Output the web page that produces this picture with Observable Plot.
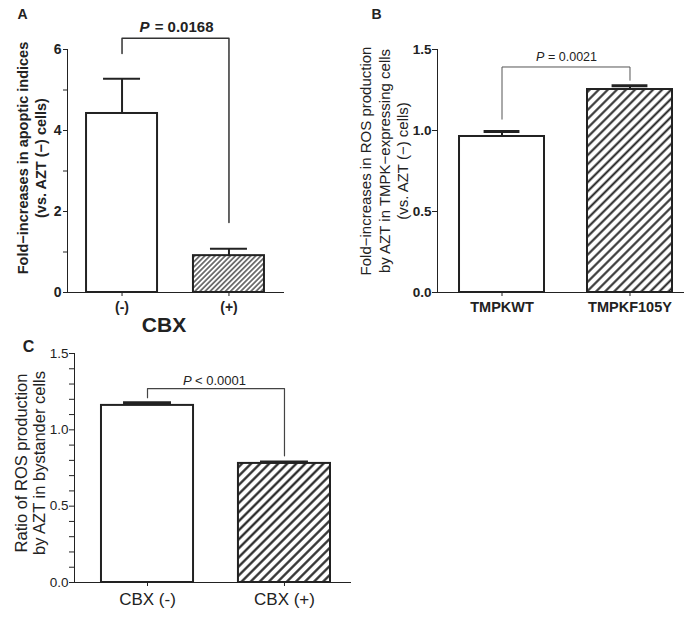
<!DOCTYPE html>
<html>
<head>
<meta charset="utf-8">
<script src="https://cdn.jsdelivr.net/npm/d3@7"></script>
<script src="https://cdn.jsdelivr.net/npm/@observablehq/plot@0.6"></script>
<style>
  html, body { margin: 0; padding: 0; background: #fff; }
  #wrap { position: relative; width: 698px; height: 621px; background: #fff; overflow: hidden; }
  .panel { position: absolute; }
</style>
</head>
<body>
<div id="wrap">
  <div class="panel" id="pA" style="left:0px;top:0px"></div>
  <div class="panel" id="pB" style="left:340px;top:0px"></div>
  <div class="panel" id="pC" style="left:0px;top:330px"></div>
</div>
<script>
// ---------- DATA ----------
// Panel A
const catsA = ["(-)", "(+)"];
const meanA = [4.42, 0.91];
const upperA = [5.28, 1.08];
const yTicksA = [0, 1, 2, 3, 4, 5, 6];
const yLabelsA = [0, 2, 4, 6];
const bracketA = [5.9, 6.28, 6.28, 1.73];   // left foot, top, top, right foot
const pTextA = "= 0.0168";
const yLabelA = "Fold\u2212increases in apoptic indices\n(vs. AZT (\u2212) cells)";
const xTitleA = "CBX";

// Panel B
const catsB = ["TMPKWT", "TMPKF105Y"];
const meanB = [0.963, 1.253];
const upperB = [0.994, 1.277];
const yTicksB = [0, 0.5, 1.0, 1.5];
const yLabelsB = [0, 0.5, 1.0, 1.5];
const bracketB = [1.07, 1.392, 1.392, 1.31];
const pTextB = "= 0.0021";
const yLabelB = "Fold\u2212increases in ROS production\nby AZT in TMPK\u2212expressing cells\n(vs. AZT (\u2212) cells)";

// Panel C
const catsC = ["CBX (-)", "CBX (+)"];
const meanC = [1.16, 0.78];
const upperC = [1.178, 0.79];
const yTicksC = [0, 0.1, 0.2, 0.3, 0.4, 0.5, 0.6, 0.7, 0.8, 0.9, 1.0, 1.1, 1.2, 1.3, 1.4, 1.5];
const yLabelsC = [0, 0.5, 1.0, 1.5];
const bracketC = [1.21, 1.27, 1.27, 0.83];
const pTextC = "< 0.0001";
const yLabelC = "Ratio of ROS production\nby AZT in bystander cells";

// ---------- DRAWING ----------
const FONT = "'Liberation Sans', Arial, Helvetica, sans-serif";
const INK = "#222";
const NS = "http://www.w3.org/2000/svg";

function addHatch(svg, id, size, sw) {
  const defs = document.createElementNS(NS, "defs");
  defs.innerHTML =
    `<pattern id="${id}" patternUnits="userSpaceOnUse" width="${size}" height="${size}" patternTransform="rotate(45)">` +
    `<rect width="${size}" height="${size}" fill="white"/>` +
    `<line x1="${size/2}" y1="0" x2="${size/2}" y2="${size}" stroke="${INK}" stroke-width="${sw}"/></pattern>`;
  svg.insertBefore(defs, svg.firstChild);
}

function makePanel(cfg) {
  const rows = cfg.cats.map((c, i) => ({i, cat: c, mean: cfg.mean[i], upper: cfg.upper[i]}));
  const br = [0, 0, 1, 1].map((x, k) => ({x, y: cfg.bracket[k]}));
  const brTop = cfg.bracket[1];
  const marks = [
    Plot.rect(rows.filter(d => d.i === 0), {x1: d => d.i - cfg.half, x2: d => d.i + cfg.half, y1: 0, y2: "mean",
      fill: "white", stroke: INK, strokeWidth: cfg.barSW}),
    Plot.rect(rows.filter(d => d.i === 1), {x1: d => d.i - cfg.half, x2: d => d.i + cfg.half, y1: 0, y2: "mean",
      fill: `url(#${cfg.hatchId})`, stroke: INK, strokeWidth: cfg.barSW}),
    Plot.ruleX(rows, {x: "i", y1: "mean", y2: "upper", stroke: INK, strokeWidth: cfg.stemSW}),
    Plot.ruleY(rows, {y: "upper", x1: d => d.i - cfg.cap, x2: d => d.i + cfg.cap, stroke: INK, strokeWidth: cfg.capSW}),
    Plot.line(br, {x: "x", y: "y", stroke: cfg.brColor, strokeWidth: cfg.brSW}),
    // p-value: italic P + rest
    Plot.text(["P"], {x: 0.5, y: brTop, dx: cfg.pDx[0], dy: cfg.pDy, textAnchor: "start", fontStyle: "italic",
      fontSize: cfg.pSize, fontWeight: cfg.pWeight, fill: INK}),
    Plot.text([cfg.pText], {x: 0.5, y: brTop, dx: cfg.pDx[1], dy: cfg.pDy, textAnchor: "end",
      fontSize: cfg.pSize, fontWeight: cfg.pWeight, fill: INK}),
    // y tick labels
    Plot.text(cfg.yLabels, {y: d => d, text: cfg.yFmt, frameAnchor: "left", dx: -(cfg.ytTick + cfg.ytPad),
      textAnchor: "end", lineAnchor: "middle", fontSize: cfg.ytSize, fontWeight: cfg.ytWeight, fill: INK}),
    // x tick labels
    Plot.text(rows, {x: "i", text: "cat", frameAnchor: "bottom", dy: cfg.xlDy, lineAnchor: "middle",
      fontSize: cfg.xlSize, fontWeight: cfg.xlWeight, fill: INK}),
    // y label
    Plot.text([cfg.yLabel], {frameAnchor: "left", rotate: -90, dx: cfg.ylDx, dy: cfg.ylDy, textAnchor: "middle",
      lineAnchor: "middle", lineHeight: cfg.ylLH, fontSize: cfg.ylSize, fontWeight: cfg.ylWeight, fill: INK}),
    // panel letter
    Plot.text([cfg.letter], {frameAnchor: "top-left", dx: cfg.letDx, dy: cfg.letDy, textAnchor: "middle",
      lineAnchor: "middle", fontSize: cfg.letSize, fontWeight: "bold", fill: INK})
  ];
  if (cfg.xTitle) {
    marks.push(Plot.text([cfg.xTitle], {x: 0.5, frameAnchor: "bottom", dx: cfg.xtDx, dy: cfg.xtDy, lineAnchor: "middle",
      fontSize: cfg.xtSize, fontWeight: "bold", fill: INK}));
  }
  const svg = Plot.plot({
    width: cfg.width, height: cfg.height,
    marginLeft: cfg.ml, marginRight: cfg.mr, marginTop: cfg.mt, marginBottom: cfg.mb,
    style: {fontFamily: FONT, color: INK, background: "transparent", overflow: "visible"},
    x: {domain: cfg.xDomain, ticks: [0, 1], tickFormat: () => "", line: true, tickSize: 4, label: null},
    y: {domain: cfg.yDomain, ticks: cfg.yTicks, tickFormat: () => "", line: true, tickSize: cfg.ytTick, label: null},
    marks
  });
  addHatch(svg, cfg.hatchId, cfg.hatchSize, cfg.hatchSW);
  return svg;
}

document.getElementById("pA").appendChild(makePanel({
  cats: catsA, mean: meanA, upper: upperA, bracket: bracketA, pText: pTextA, yLabel: yLabelA, xTitle: xTitleA,
  letter: "A", width: 340, height: 330, ml: 67, mr: 57, mt: 49, mb: 38,
  xDomain: [-0.51, 1.51], yDomain: [0, 6], yTicks: yTicksA, yLabels: yLabelsA, yFmt: d => String(d),
  half: 0.332, cap: 0.173, barSW: 2, stemSW: 2, capSW: 2, brColor: "#333", brSW: 1.5,
  hatchId: "hatchA", hatchSize: 3.6, hatchSW: 1.2,
  pDx: [-36, 38], pDy: -11, pSize: 15, pWeight: "bold",
  xlDy: 15, xlSize: 14, xlWeight: "bold",
  ylDx: -36, ylDy: -13, ylLH: 1.2, ylSize: 14.5, ylWeight: "bold",
  letDx: -45, letDy: -35, letSize: 14,
  ytSize: 14, ytWeight: "bold", ytTick: 4, ytPad: 2,
  xtDx: -11.5, xtDy: 33, xtSize: 21
}));

document.getElementById("pB").appendChild(makePanel({
  cats: catsB, mean: meanB, upper: upperB, bracket: bracketB, pText: pTextB, yLabel: yLabelB,
  letter: "B", width: 358, height: 330, ml: 97, mr: 15, mt: 49, mb: 38,
  xDomain: [-0.504, 1.418], yDomain: [0, 1.5], yTicks: yTicksB, yLabels: yLabelsB, yFmt: d => d.toFixed(1),
  half: 0.332, cap: 0.14, barSW: 2, stemSW: 2, capSW: 3, brColor: "#555", brSW: 1,
  hatchId: "hatchB", hatchSize: 6.4, hatchSW: 2,
  pDx: [-30, 31], pDy: -10, pSize: 12.5, pWeight: "normal",
  xlDy: 15, xlSize: 14.5, xlWeight: "bold",
  ylDx: -54, ylDy: -10, ylLH: 1.25, ylSize: 15, ylWeight: "normal",
  letDx: -61, letDy: -35, letSize: 14,
  ytSize: 13.5, ytWeight: "bold", ytTick: 5, ytPad: 1
}));

document.getElementById("pC").appendChild(makePanel({
  cats: catsC, mean: meanC, upper: upperC, bracket: bracketC, pText: pTextC, yLabel: yLabelC,
  letter: "C", width: 360, height: 291, ml: 74, mr: 10, mt: 23, mb: 39,
  xDomain: [-0.533, 1.482], yDomain: [0, 1.5], yTicks: yTicksC, yLabels: yLabelsC, yFmt: d => d.toFixed(1),
  half: 0.336, cap: 0.175, barSW: 2, stemSW: 2, capSW: 3, brColor: "#444", brSW: 1.2,
  hatchId: "hatchC", hatchSize: 6.4, hatchSW: 2.2,
  pDx: [-33, 30], pDy: -8, pSize: 13, pWeight: "normal",
  xlDy: 17, xlSize: 17, xlWeight: "normal",
  ylDx: -44, ylDy: -5, ylLH: 1.05, ylSize: 16.5, ylWeight: "normal",
  letDx: -46, letDy: -7, letSize: 16,
  ytSize: 13.5, ytWeight: "normal", ytTick: 5, ytPad: 1
}));
</script>
</body>
</html>
